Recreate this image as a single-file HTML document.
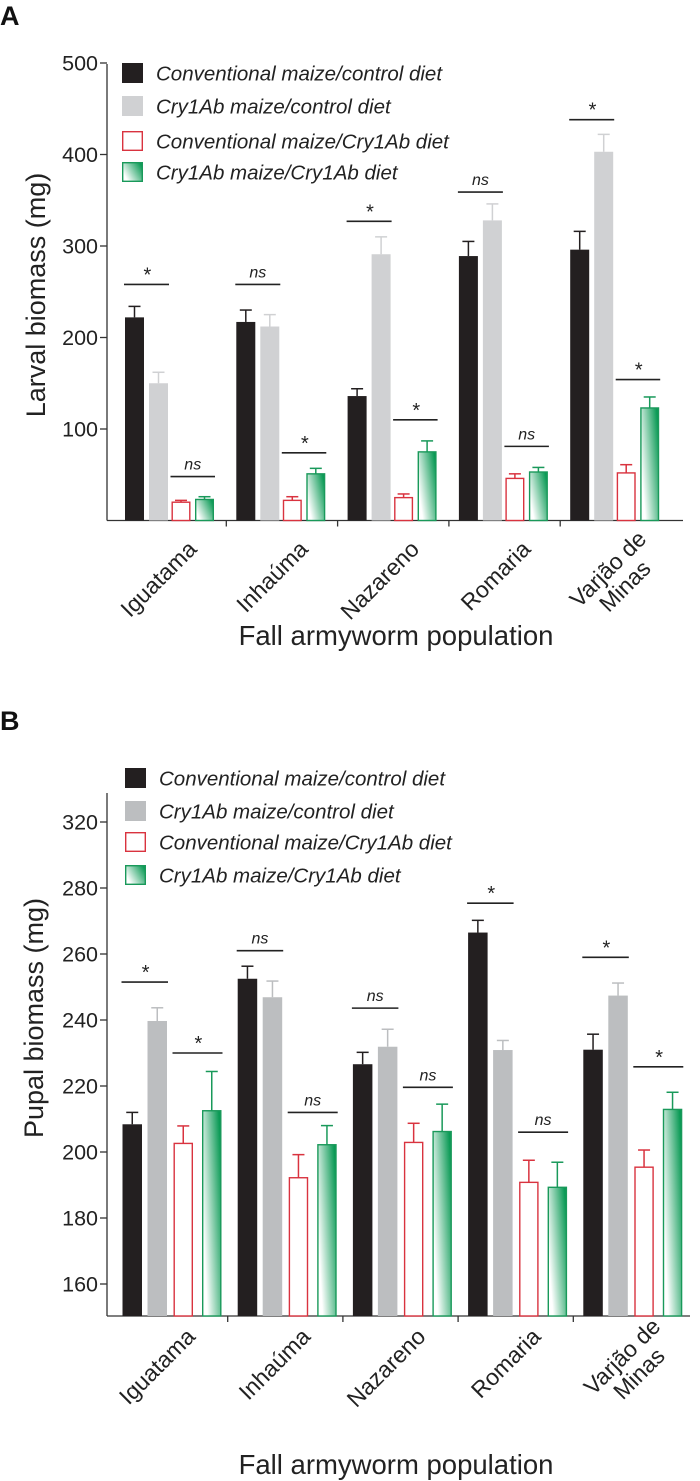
<!DOCTYPE html>
<html><head><meta charset="utf-8"><style>
html,body{margin:0;padding:0;background:#fff;}
svg{display:block;font-family:"Liberation Sans",Arial,sans-serif;}
</style></head><body>
<svg id="fig" width="700" height="1481" viewBox="0 0 700 1481" xmlns="http://www.w3.org/2000/svg">
<defs>
<linearGradient id="gA" x1="0.1" y1="0.7" x2="1" y2="0.2"><stop offset="0" stop-color="#fff"/><stop offset="1" stop-color="#0a9a55"/></linearGradient>
</defs>
<text x="0" y="25" font-size="27" font-weight="bold" fill="#111">A</text>
<text x="0" y="730" font-size="27" font-weight="bold" fill="#111">B</text>
<g id="pA"></g>
<g id="pB"></g>
</svg>
<script>
const categories = ["Iguatama","Inhaúma","Nazareno","Romaria","Varjão de|Minas"];
const seriesNames = ["Conventional maize/control diet","Cry1Ab maize/control diet","Conventional maize/Cry1Ab diet","Cry1Ab maize/Cry1Ab diet"];
// Panel A: larval biomass
const larvalConvCtrl = [222,217,136,289,296];
const larvalBtCtrl   = [150,212,291,328,403];
const larvalConvCry  = [20,22,25,46,52];
const larvalBtCry    = [23,51,75,53,123];
const larvalErrConvCtrl = [12,13,8,16,20];
const larvalErrBtCtrl   = [12,13,19,18,19];
const larvalErrConvCry  = [2,4,4,5,9];
const larvalErrBtCry    = [3,6,12,5,12];
const larvalTicks = [0,100,200,300,400,500];
const larvalTickLabels = ["","100","200","300","400","500"];
const larvalSigPair0 = ["*","ns","*","ns","*"];
const larvalSigPair0Y = [258,258,327,359,438];
const larvalSigPair1 = ["ns","*","*","ns","*"];
const larvalSigPair1Y = [48,74,110,81,154];
// Panel B: pupal biomass
const pupalConvCtrl = [208.4,252.5,226.6,266.5,231];
const pupalBtCtrl   = [239.7,246.9,231.9,230.9,247.4];
const pupalConvCry  = [202.6,192.2,202.9,190.8,195.4];
const pupalBtCry    = [212.5,202.2,206.2,189.3,212.9];
const pupalErrConvCtrl = [3.6,3.8,3.6,3.7,4.7];
const pupalErrBtCtrl   = [4,4.9,5.3,2.9,3.8];
const pupalErrConvCry  = [5.3,7,5.8,6.7,5.2];
const pupalErrBtCry    = [11.9,5.8,8.3,7.6,5.2];
const pupalTicks = [160,180,200,220,240,260,280,300];
const pupalTickLabels = ["160","180","200","220","240","260","280","320"];
const pupalSigPair0 = ["*","ns","ns","*","*"];
const pupalSigPair0Y = [251.5,261,243.6,275.4,259];
const pupalSigPair1 = ["*","ns","ns","ns","*"];
const pupalSigPair1Y = [230,212,219.6,206,225.8];

const NS="http://www.w3.org/2000/svg";
function mk(parent,tag,attrs,text){const e=document.createElementNS(NS,tag);for(const k in attrs)e.setAttribute(k,attrs[k]);if(text!==undefined)e.textContent=text;parent.appendChild(e);return e;}

function drawPanel(g,cfg){
  const y=v=>cfg.y0-(v-cfg.v0)*cfg.k;
  const gx=i=>cfg.gStart+i*cfg.gStep;
  const offs=[0,cfg.o1,cfg.o2,cfg.o3];
  const fills=["#231f20",cfg.gray,"#fff","url(#gA)"];
  const strokes=["#231f20",cfg.gray,"#d9333f","#19995a"];
  const vals=cfg.vals, errs=cfg.errs;
  let ax=mk(g,"line",{x1:cfg.ax,y1:cfg.axTop,x2:cfg.ax,y2:cfg.axBot,stroke:"#333","stroke-width":1.3});
  
  let xa=mk(g,"line",{x1:cfg.ax,y1:cfg.axBot,x2:cfg.axEnd,y2:cfg.axBot,stroke:"#333","stroke-width":1.3});
  
  cfg.ticks.forEach((t,i)=>{
    const ty=y(t);
    if(cfg.tickLabels[i]!==""){
      const tl=mk(g,"line",{x1:cfg.ax-7,y1:ty,x2:cfg.ax,y2:ty,stroke:"#333","stroke-width":1.3});
      
      const tt=mk(g,"text",{x:cfg.ax-9,y:ty+7.5,"font-size":21.5,"text-anchor":"end",fill:"#222"},cfg.tickLabels[i]);
      
    }
  });
  for(let i=1;i<categories.length;i++){
    const sx=gx(i)-cfg.sepOff;
    const st=mk(g,"line",{x1:sx,y1:cfg.axBot,x2:sx,y2:cfg.axBot+6,stroke:"#333","stroke-width":1.3});
    
  }
  categories.forEach((c,i)=>{
    for(let s=0;s<4;s++){
      const x=gx(i)+offs[s], v=vals[s][i], top=y(v), bw=cfg.bw;
      const sw=(s>=2)?1.4:0;
      const r=mk(g,"rect",{x:x+sw/2,y:top,width:bw-sw,height:cfg.axBot-top,fill:fills[s],stroke:s>=2?strokes[s]:"none","stroke-width":sw});
      
      
      const et=y(v+errs[s][i]), cx=x+bw/2;
      const e1=mk(g,"line",{x1:cx,y1:top,x2:cx,y2:et,stroke:strokes[s],"stroke-width":1.5});
      
      const e2=mk(g,"line",{x1:cx-6,y1:et,x2:cx+6,y2:et,stroke:strokes[s],"stroke-width":1.5});
      
    }
    [[cfg.sig0,cfg.sig0Y,0],[cfg.sig1,cfg.sig1Y,2]].forEach(([lab,ly,s0])=>{
      const x1=gx(i)+offs[s0]-1, x2=gx(i)+offs[s0+1]+cfg.bw+1, yy=y(ly[i]);
      const l=mk(g,"line",{x1:x1,y1:yy,x2:x2,y2:yy,stroke:"#222","stroke-width":1.6});
      
      const t=mk(g,"text",{x:(x1+x2)/2,y:lab[i]==="*"?yy-3:yy-7,"font-size":lab[i]==="*"?20:16,"font-style":"italic","text-anchor":"middle",fill:"#222"},lab[i]);
      
    });
    const ex=gx(i)+cfg.labDx, ey=cfg.axBot+cfg.labDy;
    const parts=c.split("|");
    const tg=mk(g,"text",{transform:`translate(${ex},${ey}) rotate(-45)`,"font-size":23,"text-anchor":parts.length>1?"middle":"end",fill:"#222"});
    
    if(parts.length>1){
      mk(tg,"tspan",{x:-38,y:-4},parts[0]);mk(tg,"tspan",{x:-38,y:20},parts[1]);
    } else tg.textContent=c;
  });
  seriesNames.forEach((n,s)=>{
    const ly=cfg.legY[s];
    const sw=s>=2?1.4:0;
    const r=mk(g,"rect",{x:cfg.legX+sw/2,y:ly-10+sw/2,width:21-sw,height:20-sw,fill:fills[s],stroke:s>=2?strokes[s]:"none","stroke-width":sw});
    
    const t=mk(g,"text",{x:cfg.legX+34,y:ly+7.5,"font-size":20.5,"font-style":"italic",fill:"#222"},n);
    
  });
  const yt=mk(g,"text",{transform:`translate(${cfg.ytX},${cfg.ytY}) rotate(-90)`,"font-size":27,"text-anchor":"middle",fill:"#222"},cfg.yTitle);
  
  const xt=mk(g,"text",{x:396,y:cfg.xtY,"font-size":27.5,"text-anchor":"middle",fill:"#222"},"Fall armyworm population");
  
}

drawPanel(document.getElementById("pA"),{
  y0:520.5,v0:0,k:0.915,gStart:125,gStep:111.3,o1:24,o2:46.5,o3:70,bw:19,sepOff:10,
  ax:107,axTop:64,axBot:520.5,axEnd:683,gray:"#d0d1d3",
  vals:[larvalConvCtrl,larvalBtCtrl,larvalConvCry,larvalBtCry],
  errs:[larvalErrConvCtrl,larvalErrBtCtrl,larvalErrConvCry,larvalErrBtCry],
  ticks:larvalTicks,tickLabels:larvalTickLabels,
  sig0:larvalSigPair0,sig0Y:larvalSigPair0Y,sig1:larvalSigPair1,sig1Y:larvalSigPair1Y,
  labDx:73,labDy:30,legX:122,legY:[73,106,141,172],
  yTitle:"Larval biomass (mg)",ytX:45,ytY:295,xtY:645
});
drawPanel(document.getElementById("pB"),{
  y0:1152,v0:200,k:3.3,gStart:122.5,gStep:115.2,o1:25,o2:51,o3:79.5,bw:19.5,sepOff:10,
  ax:107,axTop:793,axBot:1316,axEnd:690,gray:"#bcbec0",
  vals:[pupalConvCtrl,pupalBtCtrl,pupalConvCry,pupalBtCry],
  errs:[pupalErrConvCtrl,pupalErrBtCtrl,pupalErrConvCry,pupalErrBtCry],
  ticks:pupalTicks,tickLabels:pupalTickLabels,
  sig0:pupalSigPair0,sig0Y:pupalSigPair0Y,sig1:pupalSigPair1,sig1Y:pupalSigPair1Y,
  labDx:74,labDy:22,legX:125,legY:[778,811,842,875],
  yTitle:"Pupal biomass (mg)",ytX:43,ytY:1018,xtY:1474
});
</script>
</body></html>
